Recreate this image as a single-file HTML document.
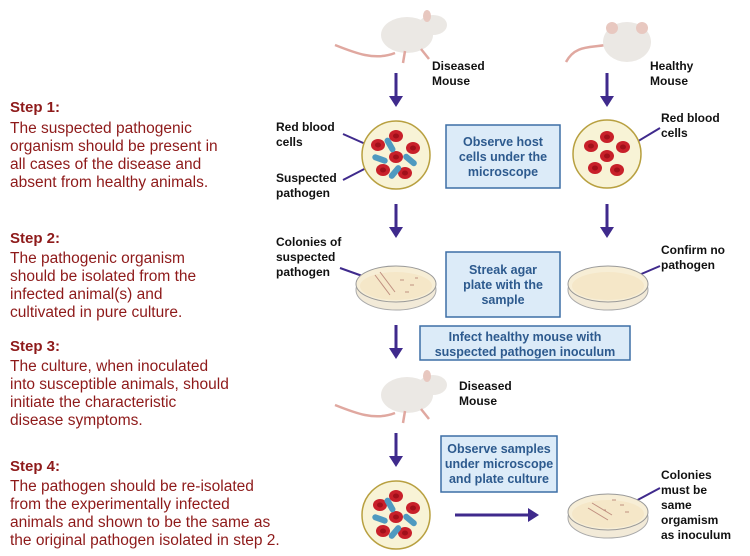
<!DOCTYPE html>
<html><head><meta charset="utf-8"><style>
body{margin:0;background:#fff;width:750px;height:556px;overflow:hidden;font-family:"Liberation Sans",Arial,sans-serif}
svg{position:absolute;left:0;top:0}
.st{font-weight:bold;font-size:15px;fill:#8e1a1a}
.bd{font-size:15.5px;fill:#8e1a1a}
.lb{font-weight:bold;font-size:12px;fill:#111}
.bx{fill:#dcebf8;stroke:#3d6ea5;stroke-width:1.5}
.bt{font-weight:bold;font-size:12.5px;fill:#2d5a8e;text-anchor:middle}
.ar{stroke:#3f2a8c;stroke-width:3;fill:none}
.ah{fill:#3f2a8c}
</style></head><body>
<svg width="750" height="556" viewBox="0 0 750 556">
<defs>
<g id="mouse">
<path d="M-60,12 C-40,20 -20,28 0,20" stroke="#e0a8a0" stroke-width="2.5" fill="none"/>
<ellipse cx="12" cy="2" rx="26" ry="18" fill="#ebe8e4"/>
<ellipse cx="38" cy="-8" rx="14" ry="10" fill="#ebe8e4"/>
<ellipse cx="32" cy="-17" rx="4" ry="6" fill="#e8c8c0"/>
<path d="M10,18 l-2,12 M26,16 l8,10" stroke="#e0a8a0" stroke-width="2.5"/>
</g>
<g id="rbc"><ellipse rx="7" ry="6" fill="#c8202a"/><ellipse rx="3" ry="2.5" fill="#a0101a"/></g>
<g id="bac"><rect x="-8" y="-3" width="16" height="6" rx="3" fill="#4f9ac0"/></g>
<g id="dish">
<ellipse cx="0" cy="6" rx="40" ry="20" fill="#f2ead8" stroke="#aaa"/>
<ellipse cx="0" cy="0" rx="40" ry="18" fill="#f7eed6" stroke="#999"/>
<ellipse cx="0" cy="2" rx="36" ry="14" fill="#f5e7c8"/>
</g>
</defs>

<g>
<text class="st" x="10" y="112">Step 1:</text>
<text class="bd" x="10" y="133">The suspected pathogenic</text>
<text class="bd" x="10" y="151">organism should be present in</text>
<text class="bd" x="10" y="169">all cases of the disease and</text>
<text class="bd" x="10" y="187">absent from healthy animals.</text>
<text class="st" x="10" y="243">Step 2:</text>
<text class="bd" x="10" y="263">The pathogenic organism</text>
<text class="bd" x="10" y="281">should be isolated from the</text>
<text class="bd" x="10" y="299">infected animal(s) and</text>
<text class="bd" x="10" y="317">cultivated in pure culture.</text>
<text class="st" x="10" y="351">Step 3:</text>
<text class="bd" x="10" y="371">The culture, when inoculated</text>
<text class="bd" x="10" y="389">into susceptible animals, should</text>
<text class="bd" x="10" y="407">initiate the characteristic</text>
<text class="bd" x="10" y="425">disease symptoms.</text>
<text class="st" x="10" y="471">Step 4:</text>
<text class="bd" x="10" y="491">The pathogen should be re-isolated</text>
<text class="bd" x="10" y="509">from the experimentally infected</text>
<text class="bd" x="10" y="527">animals and shown to be the same as</text>
<text class="bd" x="10" y="545">the original pathogen isolated in step 2.</text>
</g>

<use href="#mouse" x="395" y="33"/>
<text class="lb" x="432" y="70">Diseased</text><text class="lb" x="432" y="85">Mouse</text>
<g>
<path d="M566,62 C575,45 590,48 605,45" stroke="#e0a8a0" stroke-width="2.5" fill="none"/>
<ellipse cx="627" cy="42" rx="24" ry="20" fill="#ebe8e4"/>
<circle cx="612" cy="28" r="6" fill="#e8c8c0"/><circle cx="642" cy="28" r="6" fill="#e8c8c0"/>
</g>
<text class="lb" x="650" y="70">Healthy</text><text class="lb" x="650" y="85">Mouse</text>

<g>
<line class="ar" x1="396" y1="73" x2="396" y2="98"/><path class="ah" d="M389,96 h14 l-7,11z"/>
<line class="ar" x1="607" y1="73" x2="607" y2="98"/><path class="ah" d="M600,96 h14 l-7,11z"/>
<line class="ar" x1="396" y1="204" x2="396" y2="229"/><path class="ah" d="M389,227 h14 l-7,11z"/>
<line class="ar" x1="607" y1="204" x2="607" y2="229"/><path class="ah" d="M600,227 h14 l-7,11z"/>
<line class="ar" x1="396" y1="325" x2="396" y2="350"/><path class="ah" d="M389,348 h14 l-7,11z"/>
<line class="ar" x1="396" y1="433" x2="396" y2="458"/><path class="ah" d="M389,456 h14 l-7,11z"/>
<line class="ar" x1="455" y1="515" x2="530" y2="515"/><path class="ah" d="M528,508 v14 l11,-7z"/>
<g stroke="#3f2a8c" stroke-width="2">
<line x1="343" y1="134" x2="370" y2="146"/><line x1="343" y1="180" x2="372" y2="165"/>
<line x1="660" y1="128" x2="630" y2="146"/>
<line x1="340" y1="268" x2="368" y2="278"/>
<line x1="660" y1="266" x2="632" y2="278"/>
<line x1="660" y1="488" x2="632" y2="503"/>
</g>
</g>

<g>
<circle cx="396" cy="155" r="34" fill="#f8f3d6" stroke="#b8a040" stroke-width="1.5"/>
<use href="#rbc" x="378" y="145"/><use href="#rbc" x="396" y="136"/><use href="#rbc" x="413" y="148"/>
<use href="#rbc" x="396" y="157"/><use href="#rbc" x="383" y="170"/><use href="#rbc" x="405" y="173"/>
<use href="#bac" x="390" y="145" transform="rotate(60 390 145)"/><use href="#bac" x="380" y="159" transform="rotate(20 380 159)"/>
<use href="#bac" x="410" y="160" transform="rotate(40 410 160)"/><use href="#bac" x="395" y="172" transform="rotate(-50 395 172)"/>
</g>
<text class="lb" x="276" y="131">Red blood</text><text class="lb" x="276" y="146">cells</text>
<text class="lb" x="276" y="182">Suspected</text><text class="lb" x="276" y="197">pathogen</text>

<g>
<circle cx="607" cy="154" r="34" fill="#f8f3d6" stroke="#b8a040" stroke-width="1.5"/>
<use href="#rbc" x="591" y="146"/><use href="#rbc" x="607" y="137"/><use href="#rbc" x="623" y="147"/>
<use href="#rbc" x="607" y="156"/><use href="#rbc" x="595" y="168"/><use href="#rbc" x="617" y="170"/>
</g>
<text class="lb" x="661" y="122">Red blood</text><text class="lb" x="661" y="137">cells</text>

<g><rect class="bx" x="446" y="125" width="114" height="63"/>
<text class="bt" x="503" y="146">Observe host</text><text class="bt" x="503" y="161">cells under the</text><text class="bt" x="503" y="176">microscope</text></g>

<use href="#dish" x="396" y="284"/>
<g stroke="#c09080" stroke-width="1"><path d="M375,275 l15,20 M380,272 l15,20 M400,280 h4 M410,285 h4 M405,292 h4 M415,278 h3"/></g>
<text class="lb" x="276" y="246">Colonies of</text><text class="lb" x="276" y="261">suspected</text><text class="lb" x="276" y="276">pathogen</text>
<g><rect class="bx" x="446" y="252" width="114" height="65"/>
<text class="bt" x="503" y="274">Streak agar</text><text class="bt" x="503" y="289">plate with the</text><text class="bt" x="503" y="304">sample</text></g>
<use href="#dish" x="608" y="284"/>
<text class="lb" x="661" y="254">Confirm no</text><text class="lb" x="661" y="269">pathogen</text>

<g><rect class="bx" x="420" y="326" width="210" height="34"/>
<text class="bt" x="525" y="341">Infect healthy mouse with</text><text class="bt" x="525" y="356">suspected pathogen inoculum</text></g>

<use href="#mouse" x="395" y="393"/>
<text class="lb" x="459" y="390">Diseased</text><text class="lb" x="459" y="405">Mouse</text>

<g><rect class="bx" x="441" y="436" width="116" height="56"/>
<text class="bt" x="499" y="453">Observe samples</text><text class="bt" x="499" y="468">under microscope</text><text class="bt" x="499" y="483">and plate culture</text></g>

<g>
<circle cx="396" cy="515" r="34" fill="#f8f3d6" stroke="#b8a040" stroke-width="1.5"/>
<use href="#rbc" x="380" y="505"/><use href="#rbc" x="396" y="496"/><use href="#rbc" x="413" y="508"/>
<use href="#rbc" x="396" y="517"/><use href="#rbc" x="383" y="531"/><use href="#rbc" x="405" y="533"/>
<use href="#bac" x="390" y="505" transform="rotate(60 390 505)"/><use href="#bac" x="380" y="519" transform="rotate(20 380 519)"/>
<use href="#bac" x="410" y="520" transform="rotate(40 410 520)"/><use href="#bac" x="395" y="532" transform="rotate(-50 395 532)"/>
</g>
<use href="#dish" x="608" y="512"/>
<g stroke="#c09080" stroke-width="1"><path d="M588,508 l20,12 M592,503 l20,12 M612,500 h4 M620,505 h4 M625,512 h4 M603,510 h3"/></g>
<text class="lb" x="661" y="479">Colonies</text><text class="lb" x="661" y="494">must be</text><text class="lb" x="661" y="509">same</text><text class="lb" x="661" y="524">orgamism</text><text class="lb" x="661" y="539">as inoculum</text>
</svg>
</body></html>
